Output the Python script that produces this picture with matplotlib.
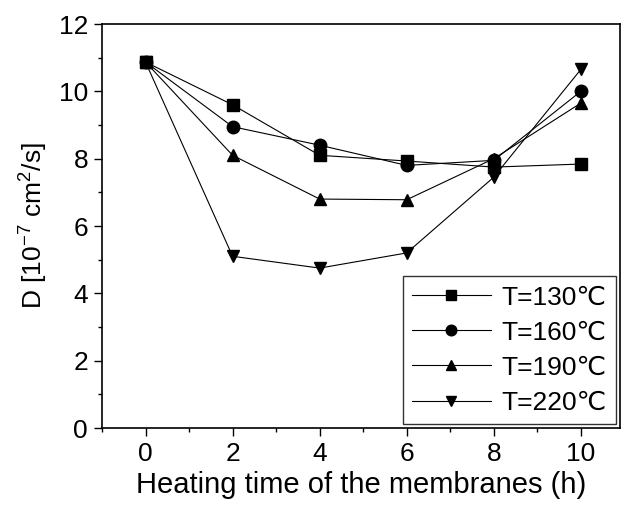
import matplotlib
matplotlib.use("Agg")
import matplotlib.pyplot as plt
from matplotlib.ticker import MultipleLocator

plt.rcParams['font.family'] = ['Liberation Sans', 'DejaVu Sans']
plt.rcParams['mathtext.fontset'] = 'custom'
plt.rcParams['mathtext.rm'] = 'Liberation Sans'
plt.rcParams['mathtext.it'] = 'Liberation Sans'

hours = [0, 2, 4, 6, 8, 10]
d_130 = [10.87, 9.6, 8.1, 7.93, 7.75, 7.84]
d_160 = [10.87, 8.95, 8.4, 7.8, 7.95, 10.0]
d_190 = [10.87, 8.1, 6.8, 6.78, 8.0, 9.65]
d_220 = [10.87, 5.1, 4.75, 5.2, 7.45, 10.65]
labels = ['T=130℃', 'T=160℃', 'T=190℃', 'T=220℃']

fig = plt.figure(figsize=(6.24, 5.07), dpi=100)
ax = fig.add_axes([102/624, 1-428/507, (620-102)/624, (428-24)/507])

for y, m, lab in zip([d_130, d_160, d_190, d_220], ['s', 'o', '^', 'v'], labels):
    ax.plot(hours, y, color='black', lw=0.8, marker=m, markersize=9, label=lab)

ax.set_xlim(-1, 10.9)
ax.set_ylim(0, 12)
ax.xaxis.set_major_locator(MultipleLocator(2))
ax.xaxis.set_minor_locator(MultipleLocator(1))
ax.yaxis.set_major_locator(MultipleLocator(2))
ax.yaxis.set_minor_locator(MultipleLocator(1))
ax.tick_params(which='major', direction='out', length=6, width=1, labelsize=19, pad=4)
ax.tick_params(which='minor', direction='out', length=3, width=1)
for s in ax.spines.values():
    s.set_linewidth(1.2)

ax.set_xlabel('Heating time of the membranes (h)', fontsize=21, labelpad=4)
ax.set_ylabel(r'D [10$^{-7}$ cm$^2$/s]', fontsize=19, labelpad=6)

leg = ax.legend(loc='lower right', fontsize=19, frameon=True, fancybox=False,
                edgecolor='black', handlelength=3.0, borderpad=0.35,
                labelspacing=0.42, handletextpad=0.4, borderaxespad=0.15,
                markerscale=0.85)
leg.get_frame().set_linewidth(1.0)

fig.savefig('out.png', dpi=100)
